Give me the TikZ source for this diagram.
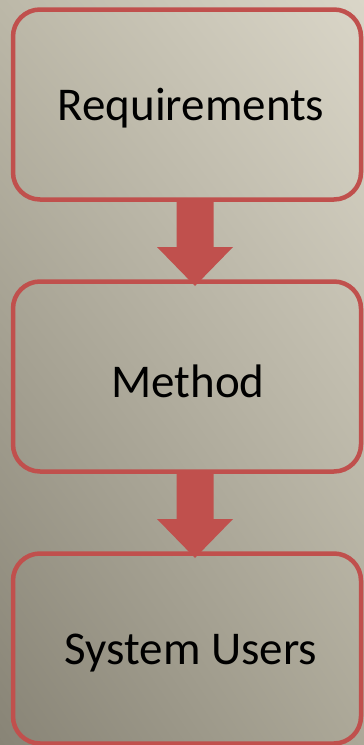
\documentclass[tikz,border=0pt]{standalone}
\usepackage{fontspec}
\setmainfont{Carlito}
\usetikzlibrary{calc,shadings}
\definecolor{boxred}{RGB}{192,80,77}
\definecolor{bgUR}{RGB}{218,214,200}
\definecolor{bgUL}{RGB}{188,184,168}
\definecolor{bgLR}{RGB}{172,168,152}
\definecolor{bgLL}{RGB}{136,132,118}
\tikzset{
  stagebox/.style={draw=boxred, line width=4.5pt, rounded corners=27pt,
    minimum width=348pt, minimum height=190pt, inner sep=0pt, outer sep=0pt},
  stagetext/.style={font=\fontsize{47pt}{56pt}\selectfont, text=black,
    xshift=4pt, yshift=-4pt},
  blockarrow/.style={fill=boxred, draw=none}
}
\begin{document}
\begin{tikzpicture}[x=1pt,y=-1pt]
\useasboundingbox (0,0) rectangle (364,745);
\shade[upper left=bgUL, upper right=bgUR, lower left=bgLL, lower right=bgLR] (0,0) rectangle (364,745);
\node[stagebox, label={[stagetext]center:Requirements}] (req) at (187,104.5) {};
\node[stagebox, label={[stagetext, xshift=-3pt, yshift=-1pt]center:Method}] (met) at (187,376.5) {};
\node[stagebox, label={[stagetext, yshift=-1pt]center:System Users}] (usr) at (187,648.5) {};
\foreach \a/\b in {req/met, met/usr}{
  \fill[blockarrow]
    ($(\a.south)+(-10.5,0)$) -- ($(\a.south)+(26.5,0)$) --
    ($(\a.south)+(26.5,47.5)$) -- ($(\a.south)+(46,47.5)$) --
    ($(\b.north)+(8,4.5)$) --
    ($(\a.south)+(-30,47.5)$) -- ($(\a.south)+(-10.5,47.5)$) -- cycle;
}
\end{tikzpicture}
\end{document}
